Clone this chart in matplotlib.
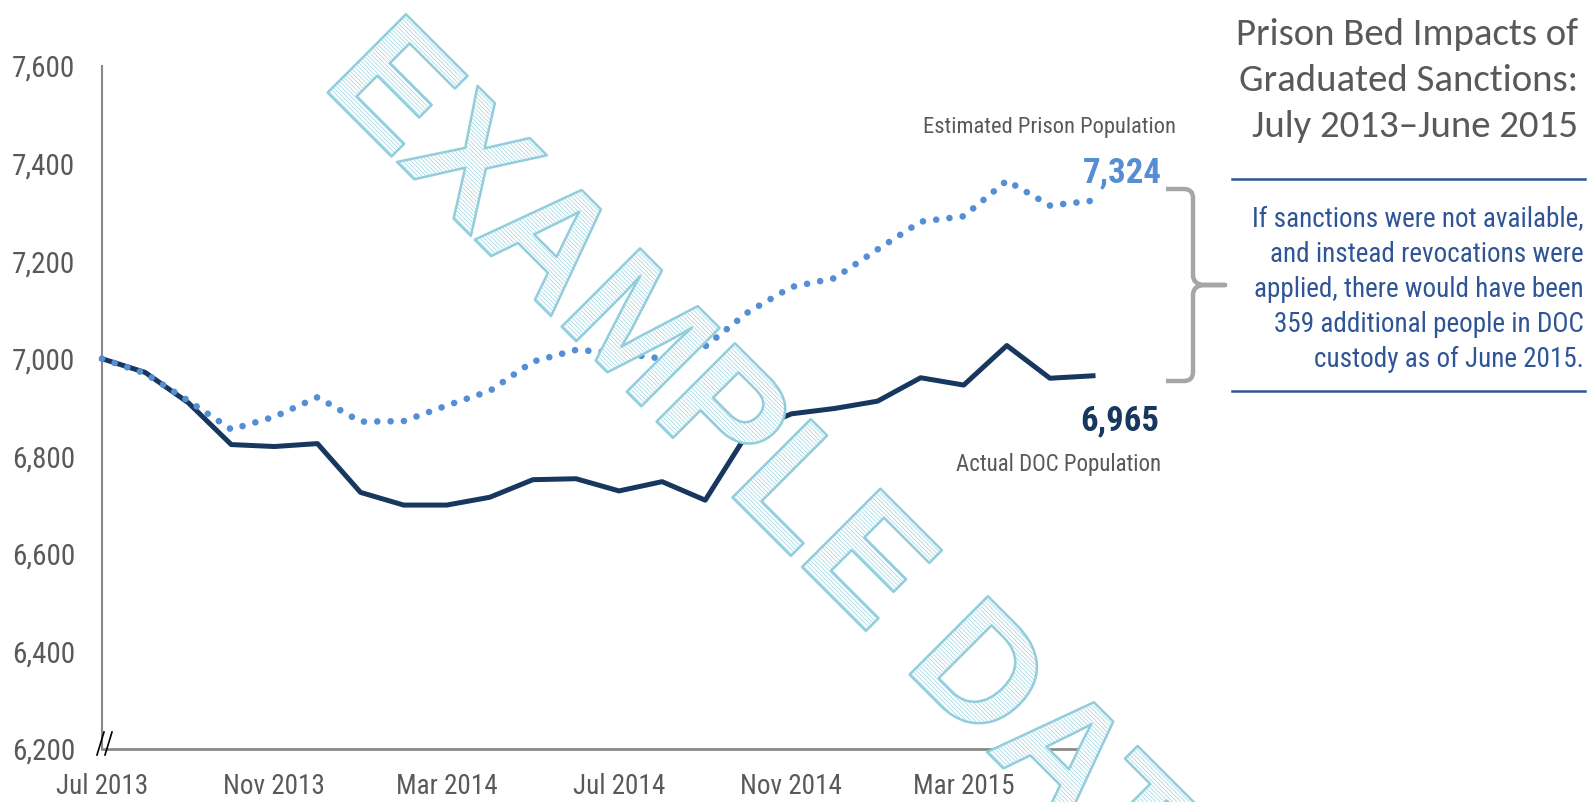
import matplotlib
matplotlib.use('Agg')
import matplotlib.pyplot as plt
import matplotlib.ticker as mticker
from matplotlib.path import Path
from matplotlib.patches import PathPatch
from matplotlib.lines import Line2D
from matplotlib.textpath import TextPath
from matplotlib.font_manager import FontProperties
from matplotlib.transforms import Affine2D, IdentityTransform

W, H = 1594, 802

# monthly data, Jul 2013 .. Jun 2015
months = list(range(24))
actual = [7000, 6972, 6910, 6824, 6820, 6826, 6726, 6700, 6700, 6716, 6752, 6754,
          6729, 6748, 6710, 6850, 6887, 6898, 6913, 6961, 6946, 7027, 6960, 6965]
estimated = [7000, 6970, 6914, 6855, 6881, 6921, 6871, 6872, 6904, 6934, 6994, 7018,
             7012, 7000, 7025, 7096, 7147, 7165, 7224, 7281, 7292, 7365, 7314, 7324]
tick_months = [0, 4, 8, 12, 16, 20]
tick_labels = ['Jul 2013', 'Nov 2013', 'Mar 2014', 'Jul 2014', 'Nov 2014', 'Mar 2015']
y_ticks = list(range(6200, 7601, 200))

NARROW = ['Roboto Condensed', 'DejaVu Sans']
GREY = '#595959'
NAVY = '#17375E'
LIGHT = '#558ED5'
NOTE = '#2F5597'


def fx(x):
    return x / W


def fy(y):
    return 1 - y / H


fig = plt.figure(figsize=(W / 100, H / 100), dpi=100)
ax = fig.add_axes([fx(102), fy(749), fx(1093) - fx(102), fy(66) - fy(749)])

ax.plot(months, actual, color=NAVY, lw=3.6, zorder=3, clip_on=False)
ax.plot(months, estimated, color=LIGHT, lw=4.8, linestyle=(0, (0.001, 2.0)),
        dash_capstyle='round', zorder=3, clip_on=False)

ax.set_xlim(0, 23)
ax.set_ylim(6200, 7600)
ax.set_yticks(y_ticks)
ax.yaxis.set_major_formatter(mticker.StrMethodFormatter('{x:,.0f}'))
ax.set_xticks(tick_months, tick_labels)
ax.tick_params(length=0, labelcolor=GREY)
ax.tick_params(axis='y', pad=19.5, labelsize=21)
ax.tick_params(axis='x', pad=17, labelsize=19.5)
for lab in ax.get_xticklabels() + ax.get_yticklabels():
    lab.set_family(NARROW)
for s in ['top', 'right']:
    ax.spines[s].set_visible(False)
ax.spines['left'].set_color('#898989')
ax.spines['left'].set_linewidth(1.5)
ax.spines['bottom'].set_color('#898989')
ax.spines['bottom'].set_linewidth(2)

# axis break marks
for x0 in (97, 105):
    fig.add_artist(Line2D([fx(x0), fx(x0 + 7)], [fy(755), fy(732)],
                          transform=fig.transFigure, color='black', lw=1.2))

# series labels
fig.text(fx(1176), fy(133), 'Estimated Prison Population', ha='right', va='baseline',
         fontsize=16.2, color=GREY, family=NARROW)
fig.text(fx(1162), fy(182), f'{estimated[-1]:,}', ha='right', va='baseline',
         fontsize=25, color=LIGHT, weight='bold', family=NARROW)
fig.text(fx(1159), fy(430), f'{actual[-1]:,}', ha='right', va='baseline',
         fontsize=25, color=NAVY, weight='bold', family=NARROW)
fig.text(fx(1161), fy(471), 'Actual DOC Population', ha='right', va='baseline',
         fontsize=16.5, color=GREY, family=NARROW)

# bracket
verts = [(1166, 189), (1184, 189), (1193, 189), (1193, 198), (1193, 275),
         (1193, 285), (1205, 285), (1225, 285), (1205, 285), (1193, 285), (1193, 295),
         (1193, 372), (1193, 381), (1184, 381), (1166, 381)]
codes = [Path.MOVETO, Path.LINETO, Path.CURVE3, Path.CURVE3, Path.LINETO,
         Path.CURVE3, Path.CURVE3, Path.LINETO, Path.LINETO, Path.CURVE3, Path.CURVE3,
         Path.LINETO, Path.CURVE3, Path.CURVE3, Path.LINETO]
flip = Affine2D().scale(1, -1).translate(0, H)
fig.add_artist(PathPatch(Path(verts, codes), facecolor='none', edgecolor='#A6A6A6',
                         lw=3.2, joinstyle='round', transform=flip))

# title block
title = ['Prison Bed Impacts of', 'Graduated Sanctions:', 'July 2013\u2013June 2015']
for line, yb in zip(title, [45, 91, 137]):
    fig.text(fx(1578), fy(yb), line, ha='right', va='baseline', fontsize=28,
             color=GREY, family=['Carlito', 'DejaVu Sans'])

for yr in (179, 391):
    fig.add_artist(Line2D([fx(1232), fx(1585)], [fy(yr), fy(yr)],
                          transform=fig.transFigure, color=NOTE, lw=1.8))

gap = estimated[-1] - actual[-1]
note = ['If sanctions were not available,', 'and instead revocations were',
        'applied, there would have been', f'{gap} additional people in DOC',
        'custody as of June 2015.']
for i, line in enumerate(note):
    fig.text(fx(1584), fy(227 + 35 * i), line, ha='right', va='baseline',
             fontsize=19.5, color=NOTE, family=NARROW)

# watermark
fp = FontProperties(family='Liberation Sans', weight='bold')
tp = TextPath((0, 0), 'EXAMPLE DATA', size=161, prop=fp)
wm = wm_path = Affine2D().rotate_deg(-45).translate(320, 717).transform_path(tp)
plt.rcParams['hatch.linewidth'] = 0.5
fig.add_artist(PathPatch(wm_path, facecolor='white', edgecolor='#9ED3E1', lw=0,
                         hatch='\\' * 8, transform=IdentityTransform(), zorder=10))
fig.add_artist(PathPatch(wm_path, facecolor='none', edgecolor='#92CDDC', lw=1.8,
                         joinstyle='round', transform=IdentityTransform(), zorder=11))

fig.savefig('out.png', dpi=100)
